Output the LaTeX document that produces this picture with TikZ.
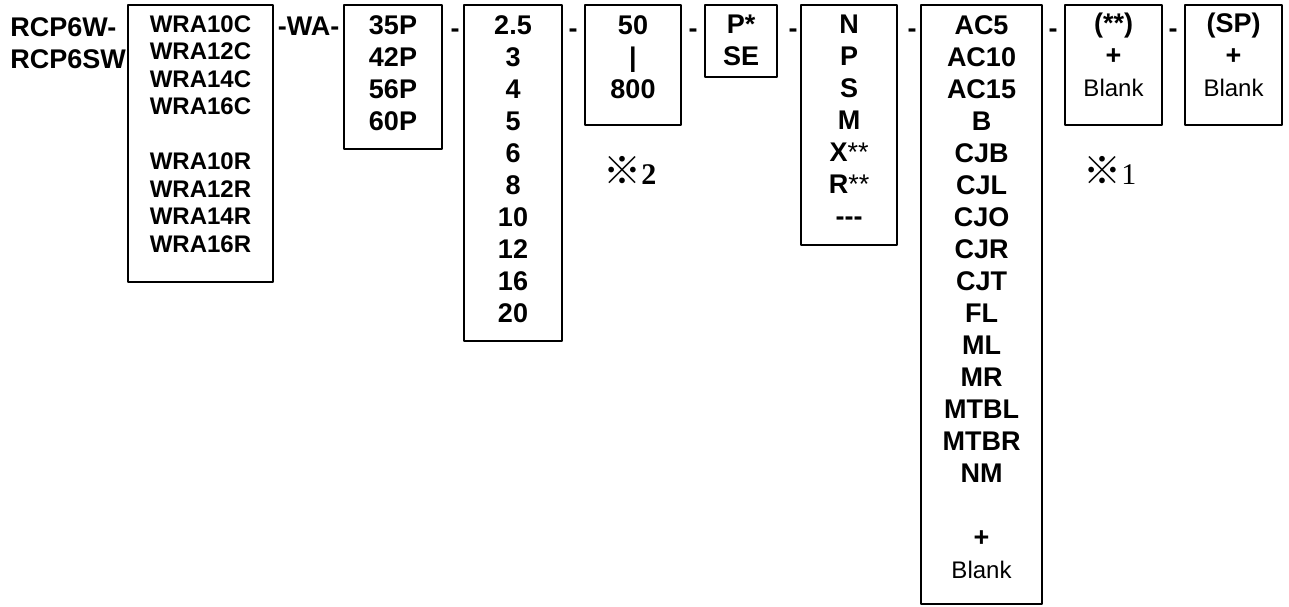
\documentclass[tikz,border=0pt]{standalone}
\usepackage{fontspec}
\setmainfont{Liberation Sans}
\newfontfamily\refmark{Noto Sans CJK JP}
\newfontfamily\serifnum{Liberation Serif}
\usetikzlibrary{positioning}
\tikzset{
    every picture/.style={line cap=round,line join=round},
    optbox/.style 2 args={draw=black,line width=0.9pt,inner sep=0pt,outer sep=0pt,
      anchor=north west,minimum width=#1*0.5pt,minimum height=#2*0.5pt},
    codetext/.style={inner sep=0pt,align=center,
      font=\bfseries\fontsize{13.5}{16}\selectfont},
    smalltext/.style={inner sep=0pt,align=center,
      font=\bfseries\fontsize{12}{13.75}\selectfont},
    septext/.style={inner sep=0pt,anchor=base,
      font=\bfseries\fontsize{13.5}{16}\selectfont},
    notetext/.style={inner sep=0pt,anchor=base west,
      font=\fontsize{15}{18}\selectfont}
}
\newcommand{\blanktxt}{{\mdseries\fontsize{12}{16}\selectfont Blank}}
\newcommand{\refsym}{{\refmark\fontsize{19}{20}\selectfont ※}}

\begin{document}
\begin{tikzpicture}[x=0.5pt,y=-0.5pt]
  \useasboundingbox (0,0) rectangle (1289,606);
  \node[codetext,anchor=north west,align=left] (rcp) at (10,17) {RCP6W-\\RCP6SW};
  \node[optbox={145}{277}] (wra) at (128,5) {};
  \node[smalltext,below=5pt of wra.north] (wratxt)
    {WRA10C\\WRA12C\\WRA14C\\WRA16C\\[13.75pt]WRA10R\\WRA12R\\WRA14R\\WRA16R};
  \node[septext] (wa) at (308.5,35) {-WA-};
  \node[optbox={98}{144}] (bore) at (344,5) {};
  \node[codetext,below=5pt of bore.north] (boretxt) {35P\\42P\\56P\\60P};
  \node[optbox={98}{336}] (lead) at (464,5) {};
  \node[codetext,below=5pt of lead.north] (leadtxt)
    {2.5\\3\\4\\5\\6\\8\\10\\12\\16\\20};
  \node[optbox={96}{120}] (stroke) at (585,5) {};
  \node[codetext,below=5pt of stroke.north] (stroketxt) {50\\|\\800};
  \node[optbox={72}{72}] (enc) at (705,5) {};
  \node[codetext,below=5pt of enc.north] (enctxt) {P*\\SE};
  \node[optbox={96}{240}] (cable) at (801,5) {};
  \node[codetext,below=5pt of cable.north] (cabletxt)
    {N\\P\\S\\M\\X{\mdseries **}\\R{\mdseries **}\\-{}-{}-};
  \node[optbox={121}{599}] (opt) at (921,5) {};
  \node[codetext,below=5pt of opt.north] (opttxt)
    {AC5\\AC10\\AC15\\B\\CJB\\CJL\\CJO\\CJR\\CJT\\FL\\ML\\MR\\MTBL\\MTBR\\NM\\[16pt]+\\\blanktxt};
  \node[optbox={97}{120}] (sopt) at (1065,5) {};
  \node[codetext,below=4pt of sopt.north] (sopttxt) {(**)\\+\\\blanktxt};
  \node[optbox={97}{120}] (sp) at (1185,5) {};
  \node[codetext,below=4pt of sp.north] (sptxt) {(SP)\\+\\\blanktxt};
  \foreach \x [count=\i] in {455,573,693,793,912,1053,1173}
    \node[septext] (dash\i) at (\x,37) {-};
  \node[notetext] (note2) at (603,184) {\refsym{\serifnum\bfseries 2}};
  \node[notetext] (note1) at (1083,184) {\refsym{\serifnum 1}};
\end{tikzpicture}
\end{document}
